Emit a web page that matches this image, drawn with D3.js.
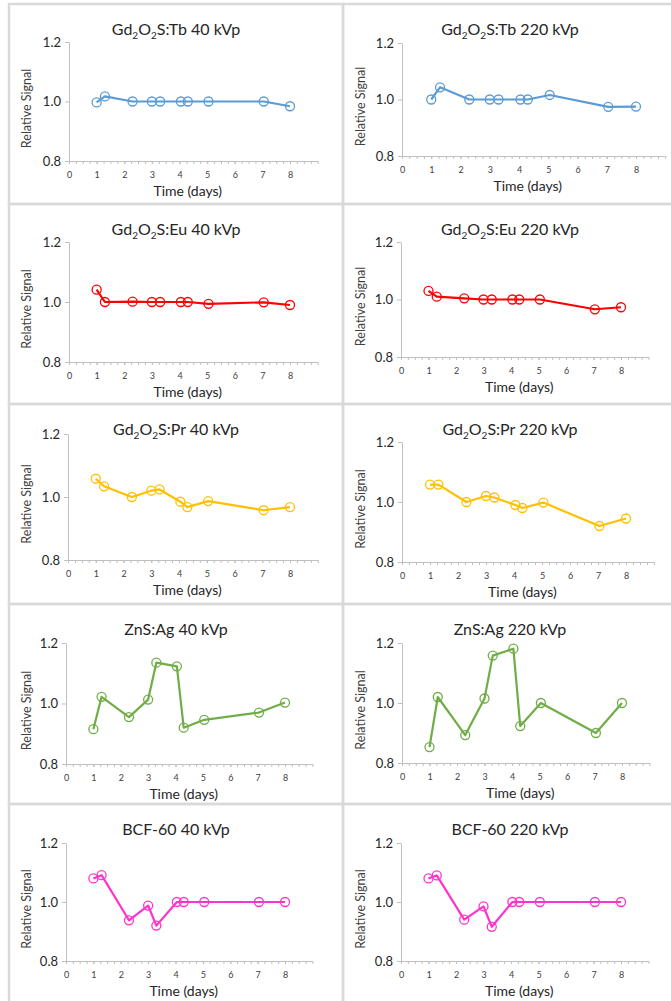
<!DOCTYPE html>
<html>
<head>
<meta charset="utf-8">
<script src="https://cdn.jsdelivr.net/npm/d3@7"></script>
<style>
  body { margin: 0; background: #fff; }
  svg { display: block; font-family: Lato, "Open Sans", sans-serif; }
</style>
</head>
<body>
<script>
// measurement days (shared x values)
const days = [1, 1.3, 2.3, 3, 3.3, 4.05, 4.3, 5.05, 7.05, 8];

// relative signal per phosphor / tube voltage
const tb40   = [0.997, 1.017, 1.0, 1.0, 1.0, 1.0, 1.0, 1.0, 1.0, 0.984];
const tb220  = [1.0, 1.043, 1.0, 1.0, 1.0, 1.0, 1.0, 1.016, 0.974, 0.975];
const eu40   = [1.041, 1.0, 1.001, 1.0, 1.0, 1.0, 1.0, 0.994, 0.999, 0.99];
const eu220  = [1.03, 1.01, 1.004, 1.0, 1.0, 1.0, 1.0, 1.0, 0.966, 0.973];
const pr40   = [1.058, 1.034, 1.0, 1.02, 1.024, 0.985, 0.968, 0.987, 0.958, 0.968];
const pr220  = [1.058, 1.058, 1.0, 1.02, 1.015, 0.99, 0.98, 0.998, 0.92, 0.945];
const zns40  = [0.915, 1.022, 0.955, 1.013, 1.135, 1.123, 0.92, 0.946, 0.97, 1.003];
const zns220 = [0.853, 1.02, 0.893, 1.015, 1.158, 1.181, 0.923, 1.0, 0.9, 1.0];
const bcf40  = [1.08, 1.091, 0.938, 0.988, 0.92, 1.0, 1.0, 1.0, 1.0, 1.0];
const bcf220 = [1.08, 1.09, 0.94, 0.985, 0.916, 1.0, 1.0, 1.0, 1.0, 1.0];

const materials = ["Gd2O2S:Tb", "Gd2O2S:Eu", "Gd2O2S:Pr", "ZnS:Ag", "BCF-60"];
const voltages = ["40 kVp", "220 kVp"];
const colors = ["#5B9BD5", "#FF0000", "#FFC000", "#70AD47", "#FF33CC"];
const series = [[tb40, tb220], [eu40, eu220], [pr40, pr220], [zns40, zns220], [bcf40, bcf220]];

const xTicks = [0, 1, 2, 3, 4, 5, 6, 7, 8];
const yTicks = [0.8, 1.0, 1.2];

// plot boxes: [x of 0 day, x of 8 days, y of 1.2, y of 0.8]
const boxes = [
  [[69, 290, 42, 161], [402, 636, 43, 156]],
  [[69, 290, 242, 362], [401, 621, 242, 357]],
  [[68, 290, 434, 560], [402, 626, 442, 562]],
  [[66, 285, 643, 764], [402, 622, 643, 763]],
  [[66, 285, 843, 961], [401, 621, 843, 961]]
];

window.addEventListener('DOMContentLoaded', () => {
  let svg = d3.select("body").append("svg")
              .attr("width", 671)
              .attr("height", 1001);

  const axisColor = "#bfbfbf";
  const panelW = 334, panelH = 200;

  materials.forEach((mat, r) => {
    voltages.forEach((kv, c) => {
      let px = 9 + c * panelW, py = 4 + r * panelH;
      let [x0, x8, yTop, yBot] = boxes[r][c];
      let vals = series[r][c];
      let color = colors[r];

      // panel frame
      svg.append("rect")
         .attr("x", px).attr("y", py)
         .attr("width", panelW).attr("height", panelH)
         .attr("fill", "none")
         .attr("stroke", "#d9d9d9")
         .attr("stroke-width", 2.5);

      // axis runs to 9 days, labels stop at 8
      let x = d3.scaleLinear().domain([0, 9]).range([x0, x0 + (x8 - x0) * 9 / 8]);
      let y = d3.scaleLinear().domain([0.8, 1.2]).range([yBot, yTop]);
      let g = svg.append("g");

      // minor x ticks
      g.append("g")
       .attr("transform", `translate(0,${yBot})`)
       .call(d3.axisBottom(x).tickValues(d3.range(0, 9.01, 0.25)).tickSize(3).tickSizeOuter(0).tickFormat(""))
       .call(a => a.select(".domain").attr("stroke", axisColor))
       .call(a => a.selectAll(".tick line").attr("stroke", axisColor));

      // major x ticks + labels
      g.append("g")
       .attr("transform", `translate(0,${yBot})`)
       .call(d3.axisBottom(x).tickValues(xTicks).tickSize(3).tickPadding(8).tickFormat(d3.format("d")))
       .call(a => a.select(".domain").remove())
       .call(a => a.selectAll(".tick line").attr("stroke", axisColor))
       .call(a => a.selectAll(".tick text")
                   .attr("font-family", "Lato, sans-serif")
                   .attr("font-size", 9)
                   .attr("fill", "#404040"));

      // y axis
      g.append("g")
       .attr("transform", `translate(${x0},0)`)
       .call(d3.axisLeft(y).tickValues(yTicks).tickSize(4).tickSizeOuter(0).tickPadding(4).tickFormat(d3.format(".1f")))
       .call(a => a.select(".domain").attr("stroke", axisColor))
       .call(a => a.selectAll(".tick line").attr("stroke", axisColor))
       .call(a => a.selectAll(".tick text")
                   .attr("font-family", "Lato, sans-serif")
                   .attr("font-size", 13)
                   .attr("fill", "#262626"));

      // title with subscripts
      let title = g.append("text")
                   .attr("x", px + 167)
                   .attr("y", py + 31)
                   .attr("text-anchor", "middle")
                   .attr("font-size", 16)
                   .attr("fill", "#262626");
      let parts = mat.split(/(?<=[A-Za-z])(\d)/);
      parts.forEach((p, i) => {
        if (i % 2 === 1) {
          title.append("tspan").attr("font-size", 10).attr("dy", 4).text(p);
        } else {
          title.append("tspan").attr("dy", i > 0 ? -4 : 0).text(p);
        }
      });
      title.append("tspan").text(" " + kv);

      // axis titles
      g.append("text")
       .attr("x", x(4.3))
       .attr("y", yBot + 35)
       .attr("text-anchor", "middle")
       .attr("font-size", 14)
       .attr("fill", "#262626")
       .text("Time (days)");

      g.append("text")
       .attr("transform", `translate(${px + 18},${(yTop + yBot) / 2 + 7}) rotate(-90)`)
       .attr("dy", "0.35em")
       .attr("text-anchor", "middle")
       .attr("font-size", 12.5)
       .attr("fill", "#404040")
       .text("Relative Signal");

      let pts = days.map((d, i) => [d, vals[i]]);

      g.append("path")
       .datum(pts)
       .attr("fill", "none")
       .attr("stroke", color)
       .attr("stroke-width", 2.2)
       .attr("stroke-linejoin", "round")
       .attr("d", d3.line().x(d => x(d[0])).y(d => y(d[1])));

      g.selectAll("circle")
       .data(pts)
       .enter()
       .append("circle")
       .attr("cx", d => x(d[0]))
       .attr("cy", d => y(d[1]))
       .attr("r", 4.5)
       .attr("fill", "none")
       .attr("stroke", color)
       .attr("stroke-width", 1.3);
    });
  });
});
</script>
</body>
</html>
